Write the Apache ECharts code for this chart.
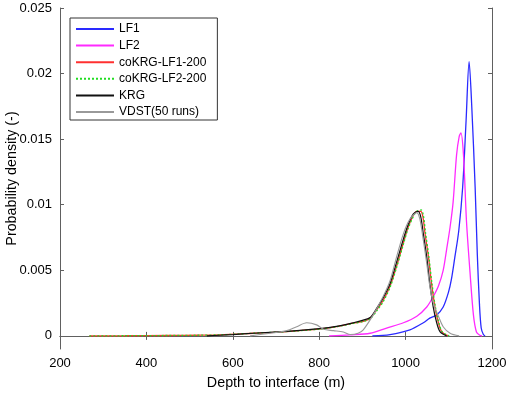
<!DOCTYPE html>
<html>
<head>
<meta charset="utf-8">
<script src="https://cdn.jsdelivr.net/npm/echarts@6/dist/echarts.min.js"></script>
<style>
  html, body { margin: 0; padding: 0; background: #fff; }
  #main { width: 510px; height: 394px; }
</style>
</head>
<body>
<div id="main"></div>
<script>
// data (depth in m, density)
var lf1X = [923, 964, 1010, 1041, 1056, 1072, 1087, 1099, 1106, 1114, 1123, 1132, 1140, 1147, 1153, 1161, 1166, 1171, 1175, 1180, 1184];
var lf1Y = [0, 0.0001, 0.00046, 0.001, 0.00135, 0.0016, 0.0022, 0.0033, 0.0043, 0.006, 0.008, 0.0113, 0.0164, 0.0209, 0.0176, 0.0113, 0.0062, 0.0024, 0.0006, 0.0001, 0];

var lf2X = [823, 871, 918, 956, 995, 1026, 1049, 1064, 1076, 1087, 1095, 1103, 1110, 1118, 1124, 1128, 1134, 1141, 1149, 1157, 1164, 1172, 1177];
var lf2Y = [0, 0.00008, 0.0002, 0.0006, 0.001, 0.0015, 0.0022, 0.003, 0.0038, 0.005, 0.0066, 0.0083, 0.0102, 0.0138, 0.0152, 0.01547, 0.0138, 0.0087, 0.0049, 0.0016, 0.0003, 0.00005, 0];

var co1X = [268, 350, 450, 520, 570, 647, 725, 802, 840, 879, 902, 918, 933, 948, 964, 979, 995, 1006, 1018, 1026, 1035, 1040, 1045, 1053, 1060, 1068, 1076, 1084, 1099];
var co1Y = [0, 0.00001, 0.00003, 0.00005, 0.00008, 0.0002, 0.00033, 0.00053, 0.00071, 0.00097, 0.0011, 0.00135, 0.002, 0.0027, 0.0038, 0.0053, 0.0071, 0.0083, 0.0092, 0.0095, 0.0095, 0.0091, 0.0078, 0.006, 0.004, 0.0022, 0.001, 0.0003, 0];

var co2X = [268, 350, 450, 520, 570, 647, 725, 802, 840, 879, 902, 918, 933, 948, 964, 979, 995, 1006, 1018, 1026, 1036, 1041, 1046, 1054, 1061, 1069, 1077, 1085, 1101];
var co2Y = [0, 0.00001, 0.00003, 0.00005, 0.00008, 0.0002, 0.00033, 0.00052, 0.0007, 0.00095, 0.0011, 0.0013, 0.0019, 0.0026, 0.0037, 0.0052, 0.007, 0.0082, 0.0091, 0.0095, 0.0096, 0.0092, 0.0079, 0.006, 0.004, 0.0022, 0.001, 0.0003, 0];

var krgX = [540, 570, 600, 647, 725, 802, 840, 879, 902, 918, 933, 948, 964, 979, 995, 1006, 1018, 1029, 1035, 1041, 1049, 1056, 1064, 1072, 1080, 1095];
var krgY = [0, 0.00005, 0.0001, 0.0002, 0.00035, 0.00055, 0.00072, 0.001, 0.0012, 0.0014, 0.0021, 0.0029, 0.004, 0.0056, 0.0074, 0.0085, 0.0093, 0.0095, 0.0091, 0.0078, 0.006, 0.004, 0.0022, 0.001, 0.0003, 0];

var vdstX = [640, 686, 725, 748, 771, 794, 810, 833, 856, 872, 890, 902, 925, 948, 964, 979, 995, 1010, 1026, 1033, 1041, 1049, 1056, 1064, 1076, 1087, 1103, 1124];
var vdstY = [0, 0.0002, 0.0004, 0.0007, 0.001, 0.00084, 0.0005, 0.0004, 0.0003, 0.0001, 0.0002, 0.00046, 0.0016, 0.003, 0.0042, 0.006, 0.0078, 0.0089, 0.0094, 0.0089, 0.0073, 0.0055, 0.0038, 0.0025, 0.0015, 0.0007, 0.0002, 0];

var xTicks = [200, 400, 600, 800, 1000, 1200];
var yTicks = [0, 0.005, 0.01, 0.015, 0.02, 0.025];

function zip(xs, ys) {
    var out = [];
    for (var i = 0; i < xs.length; i++) out.push([xs[i], ys[i]]);
    return out;
}

var myChart = echarts.init(document.getElementById('main'));
var fontName = 'Liberation Sans, Arial, sans-serif';
var axisCol = '#606060';

function line(name, xs, ys, color, width, type) {
    return {
        name: name,
        type: 'line',
        data: zip(xs, ys),
        showSymbol: false,
        symbol: 'none',
        smooth: 0.3,
        lineStyle: { color: color, width: width, type: type || 'solid' },
        itemStyle: { color: color },
        emphasis: { disabled: true },
        animation: false
    };
}

var option = {
    animation: false,
    grid: { left: 60, right: 18, top: 8, bottom: 45, outerBoundsMode: 'none', containLabel: false },
    legend: {
        orient: 'vertical',
        left: 70,
        top: 18,
        padding: [5, 11, 2, 5],
        itemWidth: 38,
        itemHeight: 12,
        itemGap: 4.6,
        borderColor: '#333',
        borderWidth: 1,
        backgroundColor: '#fff',
        itemStyle: { opacity: 0 },
        lineStyle: { width: 2 },
        textStyle: { fontFamily: fontName, fontSize: 12, color: '#000' },
        data: ['LF1', 'LF2', 'coKRG-LF1-200', 'coKRG-LF2-200', 'KRG', 'VDST(50 runs)']
    },
    xAxis: [{
        type: 'value', min: 200, max: 1200, interval: 200,
        name: 'Depth to interface (m)', nameLocation: 'middle', nameGap: 27,
        nameMoveOverlap: false,
        nameTextStyle: { fontFamily: fontName, fontSize: 14.3, color: '#000' },
        axisLine: { lineStyle: { color: axisCol } },
        axisTick: { inside: true, length: 4, lineStyle: { color: axisCol } },
        axisLabel: {
            fontFamily: fontName, fontSize: 13, color: '#000', margin: 8, customValues: xTicks,
            formatter: function (v) { return String(v); }
        },
        splitLine: { show: false }
    }, {
        type: 'value', position: 'top', min: 200, max: 1200, interval: 200,
        axisLine: { lineStyle: { color: axisCol } },
        axisTick: { inside: true, length: 4, lineStyle: { color: axisCol } },
        axisLabel: { show: false },
        splitLine: { show: false }
    }],
    yAxis: [{
        type: 'value', min: -0.001, max: 0.025,
        name: 'Probability density (-)', nameLocation: 'middle', nameGap: 41,
        nameMoveOverlap: false,
        nameTextStyle: { fontFamily: fontName, fontSize: 14.3, color: '#000' },
        axisLine: { show: true, lineStyle: { color: axisCol } },
        axisTick: { inside: true, length: 4, customValues: yTicks, lineStyle: { color: axisCol } },
        axisLabel: {
            fontFamily: fontName, fontSize: 13, color: '#000', margin: 8, customValues: yTicks,
            formatter: function (v) { return String(Math.round(v * 1000) / 1000); }
        },
        splitLine: { show: false }
    }, {
        type: 'value', position: 'right', min: -0.001, max: 0.025,
        axisLine: { show: true, lineStyle: { color: axisCol } },
        axisTick: { inside: true, length: 4, customValues: yTicks, lineStyle: { color: axisCol } },
        axisLabel: { show: false },
        splitLine: { show: false }
    }],
    series: [
        line('LF1', lf1X, lf1Y, '#2a2aff', 1.3),
        line('LF2', lf2X, lf2Y, '#ff2aff', 1.3),
        line('coKRG-LF1-200', co1X, co1Y, '#ff3030', 1.3),
        line('coKRG-LF2-200', co2X, co2Y, '#22dd22', 1.3, [2, 2]),
        line('KRG', krgX, krgY, '#111111', 1.2),
        line('VDST(50 runs)', vdstX, vdstY, '#999999', 1.1)
    ]
};
myChart.setOption(option);
</script>
</body>
</html>
